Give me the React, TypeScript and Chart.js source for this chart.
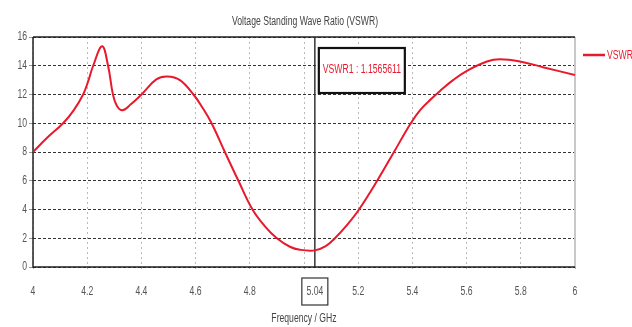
import React, { useEffect, useRef } from "react";
import { Chart, registerables } from "chart.js";

Chart.register(...registerables);

const freqs = [4.0, 4.055, 4.111, 4.15, 4.185, 4.205, 4.222, 4.255, 4.277, 4.295, 4.31, 4.33, 4.36, 4.4, 4.455, 4.495, 4.542, 4.592, 4.625, 4.659, 4.708, 4.758, 4.81, 4.855, 4.9, 4.948, 4.985, 5.04, 5.08, 5.114, 5.16, 5.203, 5.27, 5.332, 5.394, 5.43, 5.47, 5.502, 5.55, 5.601, 5.675, 5.723, 5.797, 5.882, 6.0];
const vswr = [8.0, 9.04, 10.0, 10.9, 12.0, 13.0, 14.0, 15.35, 14.0, 12.0, 11.2, 10.9, 11.3, 12.0, 13.05, 13.25, 13.0, 12.0, 11.1, 10.0, 8.0, 6.0, 4.0, 2.85, 2.0, 1.41, 1.2, 1.157, 1.45, 2.0, 2.95, 4.0, 6.0, 8.0, 10.0, 10.95, 11.7, 12.25, 13.0, 13.65, 14.3, 14.45, 14.3, 13.9, 13.35];
const xTicks = [4, 4.2, 4.4, 4.6, 4.8, 5.0, 5.2, 5.4, 5.6, 5.8, 6];
const yTicks = [0, 2, 4, 6, 8, 10, 12, 14, 16];
const markerFreq = 5.04;
const markerLabel = "5.04";
const markerText = "VSWR1 : 1.1565611";
const titleText = "Voltage Standing Wave Ratio (VSWR)";
const xTitle = "Frequency / GHz";
const seriesName = "VSWR";

const FONT = "'Liberation Sans', Arial, sans-serif";
const RED = "#e8192c";
const SQ = 0.72;

function condText(ctx: CanvasRenderingContext2D, text: string, x: number, y: number, size: number, color: string, align: "left" | "center" | "right") {
  ctx.save();
  ctx.font = `${size}px ${FONT}`;
  ctx.fillStyle = color;
  ctx.textBaseline = "middle";
  ctx.textAlign = align;
  ctx.translate(x, y);
  ctx.scale(SQ, 1);
  ctx.fillText(text, 0, 0);
  ctx.restore();
}

export default function App() {
  const ref = useRef<HTMLCanvasElement>(null);
  useEffect(() => {
    if (!ref.current) return;
    const overlay = {
      id: "overlay",
      beforeDatasetsDraw(chart: any) {
        const { ctx, chartArea: a, scales } = chart;
        ctx.save();
        ctx.setLineDash([]);
        ctx.strokeStyle = "#c8c8c8";
        ctx.lineWidth = 2;
        ctx.beginPath();
        ctx.moveTo(a.right, a.top);
        ctx.lineTo(a.right, a.bottom);
        ctx.stroke();
        ctx.strokeStyle = "#222";
        ctx.lineWidth = 1.5;
        ctx.beginPath();
        ctx.moveTo(a.left, a.top);
        ctx.lineTo(a.right, a.top);
        ctx.moveTo(a.left, a.top);
        ctx.lineTo(a.left, a.bottom);
        ctx.lineTo(a.right, a.bottom);
        ctx.stroke();
        const mx = scales.x.getPixelForValue(markerFreq);
        ctx.strokeStyle = "#333";
        ctx.lineWidth = 1.5;
        ctx.beginPath();
        ctx.moveTo(mx, a.top);
        ctx.lineTo(mx, a.bottom);
        ctx.stroke();
        ctx.restore();
      },
      afterDraw(chart: any) {
        const { ctx, chartArea: a, scales } = chart;
        const mx = scales.x.getPixelForValue(markerFreq);
        ctx.save();
        condText(ctx, titleText, 305, 22, 12, "#444", "center");
        condText(ctx, xTitle, 304, 319, 12, "#444", "center");
        for (const t of scales.x.ticks) {
          if (Math.abs(t.value - 5) < 1e-6) continue;
          condText(ctx, String(t.value), scales.x.getPixelForValue(t.value), a.bottom + 25, 12, "#555", "center");
        }
        for (const t of scales.y.ticks) {
          condText(ctx, String(t.value), a.left - 6, scales.y.getPixelForValue(t.value), 12, "#555", "right");
        }
        condText(ctx, markerLabel, mx, a.bottom + 25, 12, "#555", "center");
        ctx.strokeStyle = "#333";
        ctx.lineWidth = 1.2;
        ctx.setLineDash([]);
        ctx.strokeRect(mx - 13, a.bottom + 11, 26, 27);
        const bx = mx + 4, by = a.top + 11, bw = 86, bh = 45;
        ctx.fillStyle = "#fff";
        ctx.fillRect(bx, by, bw, bh);
        ctx.strokeStyle = "#111";
        ctx.lineWidth = 2.2;
        ctx.strokeRect(bx, by, bw, bh);
        condText(ctx, markerText, bx + 4, by + 22, 12, RED, "left");
        ctx.strokeStyle = RED;
        ctx.lineWidth = 2.5;
        ctx.beginPath();
        ctx.moveTo(583, 55);
        ctx.lineTo(605, 55);
        ctx.stroke();
        condText(ctx, seriesName, 607, 56, 12, RED, "left");
        ctx.restore();
      },
    };
    const chart = new Chart(ref.current, {
      type: "line",
      data: {
        datasets: [
          {
            label: seriesName,
            data: freqs.map((f, i) => ({ x: f, y: vswr[i] })),
            borderColor: RED,
            borderWidth: 2,
            pointRadius: 0,
            tension: 0.4,
            fill: false,
          },
        ],
      },
      options: {
        animation: false,
        responsive: false,
        maintainAspectRatio: false,
        layout: { padding: { top: 37, right: 57, left: 0, bottom: 0 } },
        plugins: { legend: { display: false }, title: { display: false }, tooltip: { enabled: false } },
        scales: {
          x: {
            type: "linear",
            min: 4,
            max: 6,
            afterBuildTicks: (s: any) => {
              s.ticks = xTicks.map((v) => ({ value: v }));
            },
            afterFit: (s: any) => {
              s.height = 60;
            },
            border: { display: false, dash: [2, 3] },
            grid: {
              color: "#b8b8b8",
              lineWidth: 1,
              drawTicks: true,
              tickLength: 4,
              tickColor: "#aaa",
              tickBorderDash: [2, 2],
            },
            ticks: { display: false },
          },
          y: {
            min: 0,
            max: 16,
            afterBuildTicks: (s: any) => {
              s.ticks = yTicks.map((v) => ({ value: v }));
            },
            afterFit: (s: any) => {
              s.width = 33;
            },
            border: { display: false, dash: [3, 2] },
            grid: {
              color: "#333",
              lineWidth: 1,
              drawTicks: true,
              tickLength: 4,
              tickColor: "#999",
            },
            ticks: { display: false },
          },
        },
      } as any,
      plugins: [overlay],
    });
    return () => chart.destroy();
  }, []);
  return (
    <div style={{ position: "fixed", left: 0, top: 0, width: 632, height: 327, background: "#fff" }}>
      <canvas ref={ref} width={632} height={327} style={{ width: 632, height: 327 }} />
    </div>
  );
}
